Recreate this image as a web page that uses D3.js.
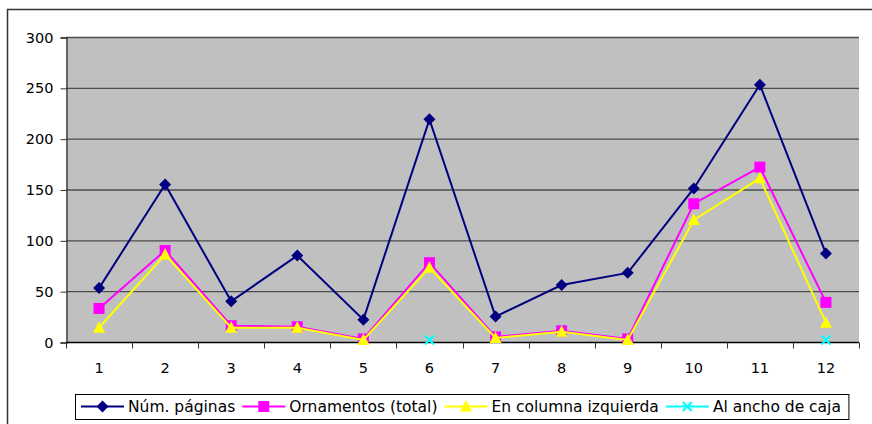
<!DOCTYPE html>
<html>
<head>
<meta charset="utf-8">
<script src="https://cdn.jsdelivr.net/npm/d3@7"></script>
<style>
  body { margin: 0; background: #fff; }
  svg { display: block; font-family: "DejaVu Sans", Verdana, sans-serif; }
</style>
</head>
<body>
<svg width="872" height="424"></svg>
<script>
const categories = ['1', '2', '3', '4', '5', '6', '7', '8', '9', '10', '11', '12'];
const numPaginas = [53, 155, 40, 85, 22, 219, 25, 56, 68, 151, 253, 87];
const ornamentos = [33, 90, 16, 15, 3, 78, 5, 11, 3, 136, 172, 39];
const enColumna = [14, 86, 14, 14, 2, 73, 4, 10, 2, 120, 161, 19];
const alAncho = [null, null, null, null, null, 2, null, null, null, null, null, 2];
const yTicks = [0, 50, 100, 150, 200, 250, 300];

const series = [
  { name: 'Núm. páginas', values: numPaginas, color: '#000080', marker: 'diamond' },
  { name: 'Ornamentos (total)', values: ornamentos, color: '#ff00ff', marker: 'square' },
  { name: 'En columna izquierda', values: enColumna, color: '#ffff00', marker: 'triangle' },
  { name: 'Al ancho de caja', values: alAncho, color: '#00ffff', marker: 'cross' }
];

const svg = d3.select('svg');
const plot = { left: 66, top: 37, right: 859, bottom: 342 };

// outer chart border
svg.append('rect')
  .attr('x', 7.5).attr('y', 9.5)
  .attr('width', 880).attr('height', 430)
  .attr('fill', 'none')
  .attr('stroke', '#333')
  .attr('stroke-width', 1.5);

const x = d3.scaleBand()
  .domain(categories)
  .range([plot.left, plot.right]);

const y = d3.scaleLinear()
  .domain([0, 300])
  .range([plot.bottom, plot.top]);

svg.append('rect')
  .attr('x', plot.left).attr('y', plot.top)
  .attr('width', plot.right - plot.left)
  .attr('height', plot.bottom - plot.top)
  .attr('fill', '#c0c0c0');

// gridlines
svg.append('g')
  .selectAll('line')
  .data(yTicks.filter(d => d > 0))
  .enter().append('line')
    .attr('x1', plot.left).attr('x2', plot.right)
    .attr('y1', d => y(d) + 0.5).attr('y2', d => y(d) + 0.5)
    .attr('stroke', '#4d4d4d')
    .attr('stroke-width', 1.3);

// y axis
const yAxis = svg.append('g')
  .attr('transform', `translate(${plot.left + 0.5},0.5)`)
  .call(d3.axisLeft(y).tickValues(yTicks).tickSize(6).tickPadding(7));
yAxis.select('.domain').attr('stroke', '#333').attr('stroke-width', 1.3);
yAxis.selectAll('.tick line').attr('stroke', '#333');
yAxis.selectAll('text')
  .attr('font-size', '14.5px')
  .attr('font-family', '"DejaVu Sans", Verdana, sans-serif')
  .attr('fill', '#000');

// x axis with ticks at category boundaries
const xAxis = svg.append('g')
  .attr('transform', `translate(0,${plot.bottom + 0.5})`);
xAxis.append('line')
  .attr('x1', plot.left).attr('x2', plot.right)
  .attr('stroke', '#000').attr('stroke-width', 1.3);
const boundaries = categories.map(c => x(c)).concat([x(categories[categories.length - 1]) + x.bandwidth()]);
xAxis.selectAll('.tk')
  .data(boundaries)
  .enter().append('line')
    .attr('class', 'tk')
    .attr('x1', d => Math.round(d) + 0.5).attr('x2', d => Math.round(d) + 0.5)
    .attr('y1', 0).attr('y2', 6)
    .attr('stroke', '#333');
xAxis.selectAll('text')
  .data(categories)
  .enter().append('text')
    .attr('x', d => x(d) + x.bandwidth() / 2)
    .attr('y', 30)
    .attr('text-anchor', 'middle')
    .attr('font-size', '14.5px')
    .text(d => d);

const cx = i => x(categories[i]) + x.bandwidth() / 2;

function drawMarker(g, type, color, px, py) {
  if (type === 'diamond') {
    g.append('path')
      .attr('d', `M${px},${py - 6}L${px + 6},${py}L${px},${py + 6}L${px - 6},${py}Z`)
      .attr('fill', color);
  } else if (type === 'square') {
    g.append('rect')
      .attr('x', px - 5.5).attr('y', py - 5.5)
      .attr('width', 11).attr('height', 11)
      .attr('fill', color);
  } else if (type === 'triangle') {
    g.append('path')
      .attr('d', `M${px},${py - 6.5}L${px + 6},${py + 5}L${px - 6},${py + 5}Z`)
      .attr('fill', color);
  } else {
    g.append('path')
      .attr('d', `M${px - 4.5},${py - 4.5}L${px + 4.5},${py + 4.5}M${px + 4.5},${py - 4.5}L${px - 4.5},${py + 4.5}`)
      .attr('stroke', color)
      .attr('stroke-width', 2.2);
  }
}

const line = d3.line()
  .defined(d => d != null)
  .x((d, i) => cx(i))
  .y(d => y(d));

series.forEach(s => {
  const g = svg.append('g');
  g.append('path')
    .datum(s.values)
    .attr('d', line)
    .attr('fill', 'none')
    .attr('stroke', s.color)
    .attr('stroke-width', 2);
  s.values.forEach((v, i) => {
    if (v != null) drawMarker(g, s.marker, s.color, cx(i), y(v));
  });
});

// legend
const legend = svg.append('g');
const legendBox = legend.append('rect')
  .attr('x', 75.5).attr('y', 394.5)
  .attr('height', 25)
  .attr('fill', '#fff')
  .attr('stroke', '#000')
  .attr('stroke-width', 1);
let lx = 81;
series.forEach(s => {
  const g = legend.append('g');
  g.append('line')
    .attr('x1', lx).attr('x2', lx + 43)
    .attr('y1', 406.5).attr('y2', 406.5)
    .attr('stroke', s.color).attr('stroke-width', 2);
  drawMarker(g, s.marker, s.color, lx + 21.5, 406.5);
  const t = g.append('text')
    .attr('x', lx + 47)
    .attr('y', 412)
    .attr('font-size', '15.5px')
    .text(s.name);
  lx += 47 + t.node().getComputedTextLength() + 7;
});
legendBox.attr('width', lx - 75.5 + 1);
</script>
</body>
</html>
